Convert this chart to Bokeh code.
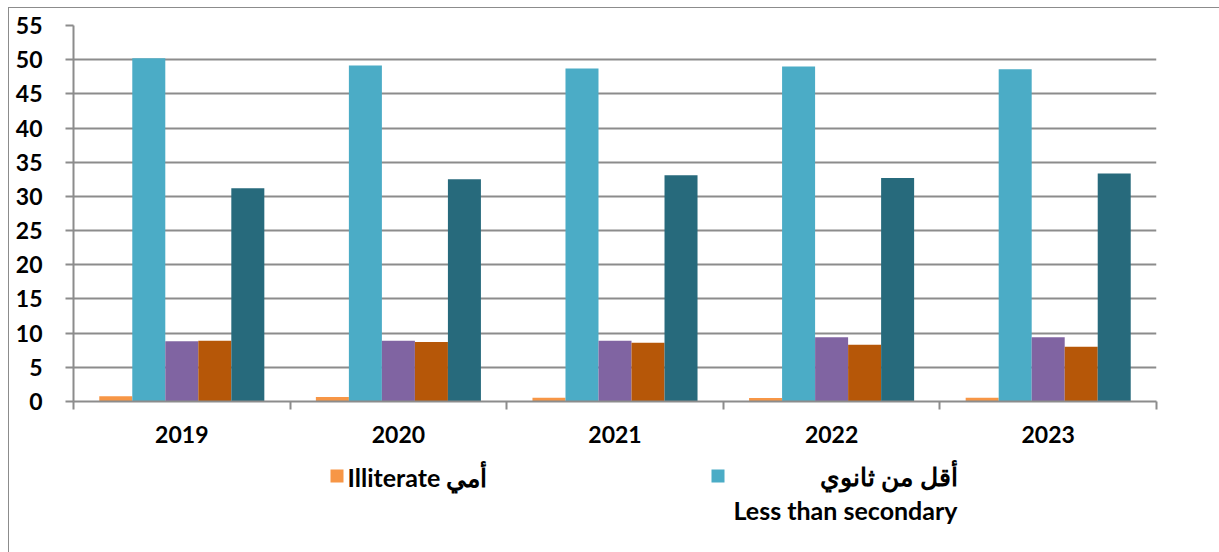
from bokeh.plotting import figure
from bokeh.layouts import column
from bokeh.models import FixedTicker, Range1d
from bokeh.core.properties import value
from bokeh.embed import file_html
from bokeh.resources import INLINE

years = ["2019", "2020", "2021", "2022", "2023"]
illiterate = [0.77, 0.66, 0.55, 0.50, 0.55]
less_secondary = [50.2, 49.15, 48.7, 49.0, 48.6]
series3 = [8.8, 8.9, 8.9, 9.4, 9.4]
series4 = [8.9, 8.7, 8.6, 8.3, 8.0]
series5 = [31.2, 32.5, 33.1, 32.7, 33.35]
y_ticks = list(range(0, 56, 5))
legend_labels = ["Illiterate أمي", "أقل من ثانوي", "Less than secondary"]

series = [illiterate, less_secondary, series3, series4, series5]
colors = ["#F79646", "#4BACC6", "#8064A2", "#B65708", "#276A7C"]
grid_c = "#8c8c8c"

# page geometry: content box starts at page (9, 8)
OX, OY = 9, 8
W = 1219 - OX
H1 = 455 - OY
BL = 73 - OX
BR = W - BL - 1083
p = figure(width=W, height=H1, output_backend="svg", toolbar_location=None,
           x_range=Range1d(0, len(years)), y_range=Range1d(0, 55),
           min_border_left=BL, min_border_right=BR,
           min_border_top=25 - OY, min_border_bottom=H1 - (25 - OY) - 376)
p.outline_line_color = None

bw = 0.1524
for k, (vals, c) in enumerate(zip(series, colors)):
    xs = [i + 0.5 + (k - 2) * bw for i in range(len(years))]
    p.vbar(x=xs, top=vals, width=bw, bottom=0, fill_color=c, line_color=None)

p.xgrid.visible = False
p.ygrid.ticker = FixedTicker(ticks=y_ticks)
p.ygrid.grid_line_color = grid_c
p.ygrid.grid_line_width = 2

p.yaxis.ticker = FixedTicker(ticks=y_ticks)
p.yaxis.axis_line_color = grid_c
p.yaxis.axis_line_width = 2
p.yaxis.major_tick_line_color = grid_c
p.yaxis.major_tick_line_width = 2
p.yaxis.major_tick_out = 8
p.yaxis.major_tick_in = 0
p.yaxis.minor_tick_line_color = None
p.yaxis.major_label_text_font = "Lato"
p.yaxis.major_label_text_font_style = "bold"
p.yaxis.major_label_text_font_size = "23px"
p.yaxis.major_label_text_color = "black"
p.yaxis.major_label_standoff = 23

p.xaxis.ticker = FixedTicker(ticks=[i + 0.5 for i in range(len(years))],
                             minor_ticks=list(range(len(years) + 1)))
p.xaxis.major_label_overrides = {i + 0.5: y for i, y in enumerate(years)}
p.xaxis.axis_line_color = grid_c
p.xaxis.axis_line_width = 2
p.xaxis.major_tick_line_color = None
p.xaxis.minor_tick_line_color = grid_c
p.xaxis.minor_tick_line_width = 2
p.xaxis.minor_tick_out = 8
p.xaxis.minor_tick_in = 0
p.xaxis.major_label_text_font = "Lato"
p.xaxis.major_label_text_font_style = "bold"
p.xaxis.major_label_text_font_size = "23px"
p.xaxis.major_label_text_color = "black"
p.xaxis.major_label_standoff = 16

# legend strip: frame aligned with the chart frame; data coordinates equal page pixels
H2 = 552 - 455
lg = figure(width=W, height=H2, output_backend="svg", toolbar_location=None,
            x_range=Range1d(73, 1156), y_range=Range1d(455 + H2, 455),
            min_border_left=BL, min_border_right=BR,
            min_border_top=0, min_border_bottom=0)
lg.axis.visible = False
lg.grid.visible = False
lg.outline_line_color = None

lg.quad(left=[330, 711], right=[343, 724], top=[469, 469], bottom=[482, 482],
        fill_color=[colors[0], colors[1]], line_color=None)
txt = dict(text_font=value("Lato"), text_font_style="bold", text_font_size="25px",
           text_color="black", text_baseline="middle")
lg.text(x=[347], y=[476], text=[legend_labels[0]], text_align="left", **txt)
lg.text(x=[957, 957], y=[475, 509], text=legend_labels[1:], text_align="right", **txt)

layout = column(p, lg, spacing=0)
layout.styles = {"margin-left": "8px", "margin-top": "7px",
                 "border-left": "1px solid #8c8c8c", "border-top": "1px solid #8c8c8c"}

open("out.html", "w").write(file_html(layout, INLINE))
